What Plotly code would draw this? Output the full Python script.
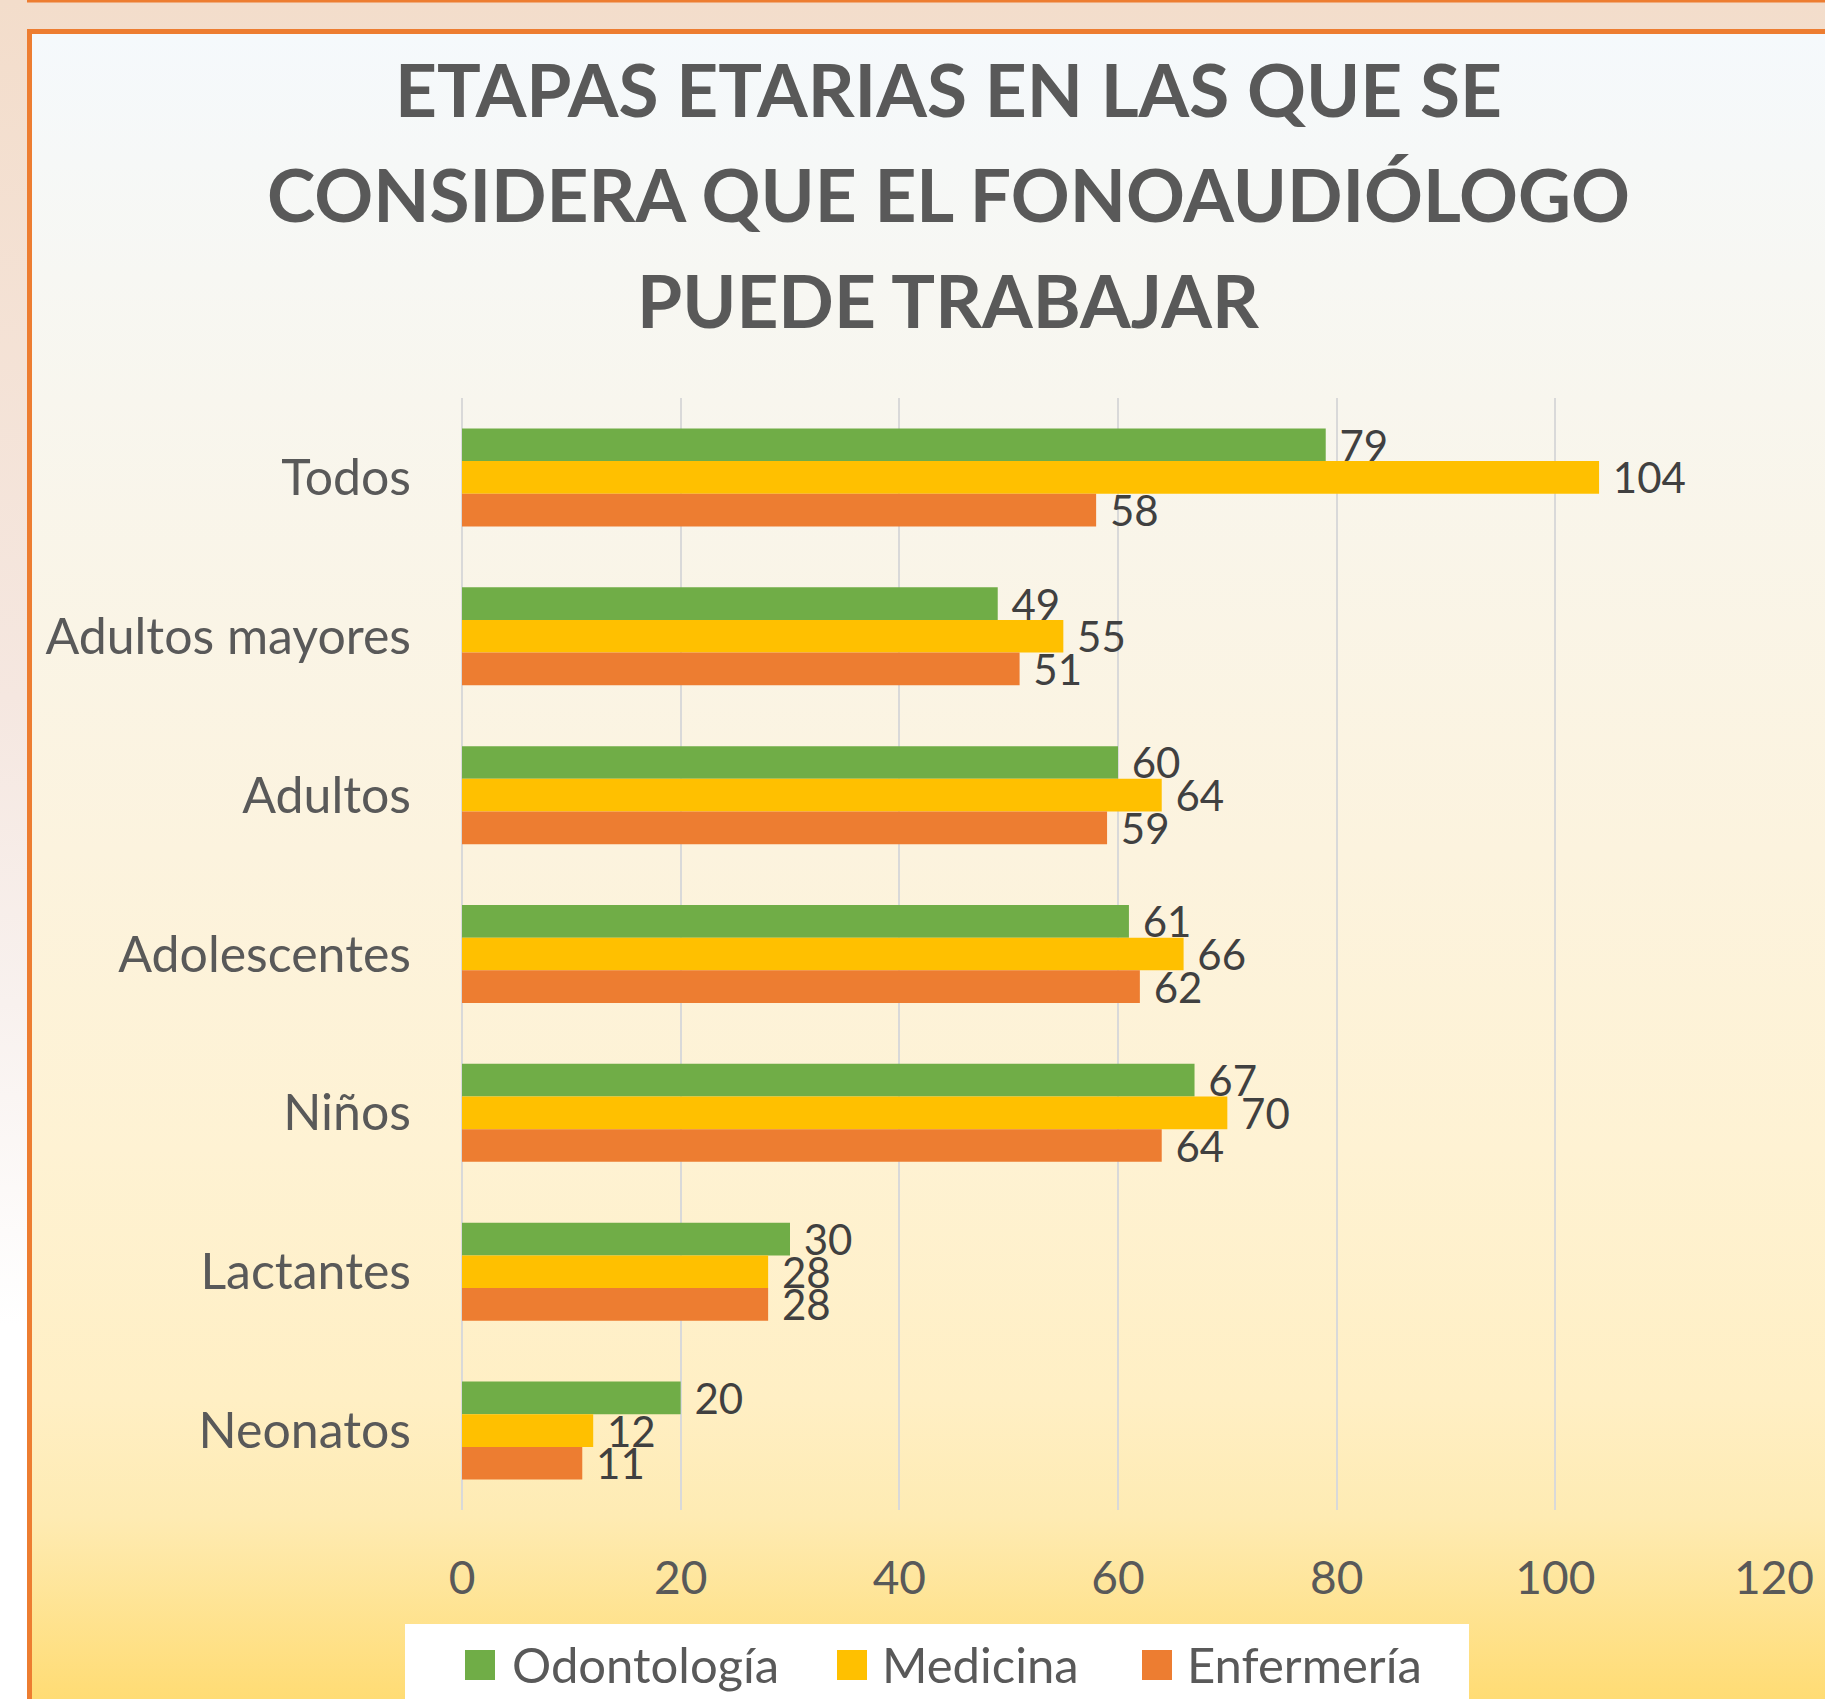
import base64
import plotly.graph_objects as go

# ---- data ----
categories = ["Todos", "Adultos mayores", "Adultos", "Adolescentes", "Niños", "Lactantes", "Neonatos"]
odontologia = [79, 49, 60, 61, 67, 30, 20]
medicina = [104, 55, 64, 66, 70, 28, 12]
enfermeria = [58, 51, 59, 62, 64, 28, 11]
series_names = ["Odontología", "Medicina", "Enfermería"]
series_colors = ["#70AD47", "#FFC000", "#ED7D31"]
x_ticks = [0, 20, 40, 60, 80, 100, 120]
title_lines = ["ETAPAS ETARIAS EN LAS QUE SE", "CONSIDERA QUE EL FONOAUDIÓLOGO", "PUEDE TRABAJAR"]

W, H = 1825, 1699
L, R, T, B = 462, 51, 398, 189
PW, PH = W - L - R, H - T - B
FONT = "Lato"


def px_x(px):
    return (px - L) / PW


def px_y(py):
    return (H - B - py) / PH


# ---- background (gradient panel drawn as an inline SVG image) ----
svg = f'''<svg xmlns="http://www.w3.org/2000/svg" width="{W}" height="{H}" viewBox="0 0 {W} {H}" preserveAspectRatio="none">
<defs>
<linearGradient id="o" x1="0" y1="0" x2="0" y2="1">
<stop offset="0" stop-color="#F3DDCB"/><stop offset="0.41" stop-color="#F5E7E0"/>
<stop offset="0.59" stop-color="#F8F1EE"/><stop offset="0.78" stop-color="#FFFFFF"/><stop offset="1" stop-color="#FFFFFF"/>
</linearGradient>
<linearGradient id="p" x1="0" y1="0" x2="0" y2="1">
<stop offset="0" stop-color="#F5F9FC"/><stop offset="0.22" stop-color="#F8F6EE"/>
<stop offset="0.49" stop-color="#FCF3DE"/><stop offset="0.67" stop-color="#FEF2D3"/>
<stop offset="0.82" stop-color="#FFEFC4"/><stop offset="0.89" stop-color="#FEEBB3"/>
<stop offset="1" stop-color="#FFDC74"/>
</linearGradient>
</defs>
<rect x="0" y="0" width="{W}" height="{H}" fill="url(#o)"/>
<rect x="27" y="0" width="{W-27}" height="2.5" fill="#ED7D31"/>
<rect x="27" y="29" width="{W-27}" height="{H-29}" fill="#ED7D31"/>
<rect x="32" y="34" width="{W-32}" height="{H-34}" fill="url(#p)"/>
<rect x="405" y="1624" width="1064" height="90" fill="#FFFFFF"/>
</svg>'''
src = "data:image/svg+xml;base64," + base64.b64encode(svg.encode("utf-8")).decode("ascii")

fig = go.Figure()
for name, vals, col in zip(series_names, [odontologia, medicina, enfermeria], series_colors):
    fig.add_trace(go.Bar(
        y=categories, x=vals, name=name, orientation="h",
        marker=dict(color=col, line=dict(width=0)),
        text=vals, texttemplate="\u00a0%{x}", textposition="outside",
        constraintext="none", cliponaxis=False,
        textfont=dict(family=FONT, size=42, color="#404040"),
        hoverinfo="skip", showlegend=False,
    ))

annotations = []
# title (three centred lines)
for line, cy in zip(title_lines, [89, 194, 300]):
    annotations.append(dict(
        text=line, xref="paper", yref="paper", x=px_x(948), y=px_y(cy),
        xanchor="center", yanchor="middle", showarrow=False,
        font=dict(family=FONT, size=73, color="#595959", weight=700),
    ))

# legend (square swatches + names)
shapes = []
legend_marker_left = [465, 837, 1142]
legend_text_left = [510, 880, 1185]
for name, col, mx, tx in zip(series_names, series_colors, legend_marker_left, legend_text_left):
    shapes.append(dict(
        type="rect", xref="paper", yref="paper",
        x0=px_x(mx), x1=px_x(mx + 30), y0=px_y(1680), y1=px_y(1650),
        fillcolor=col, line=dict(width=0), layer="above",
    ))
    annotations.append(dict(
        text=name, xref="paper", yref="paper", x=px_x(tx), y=px_y(1664),
        xanchor="left", yanchor="middle", showarrow=False,
        font=dict(family=FONT, size=49, color="#595959"),
    ))

fig.update_layout(
    width=W, height=H, autosize=False,
    margin=dict(l=L, r=R, t=T, b=B, pad=0),
    paper_bgcolor="#FFFFFF", plot_bgcolor="rgba(0,0,0,0)",
    barmode="group", bargap=0.383, bargroupgap=0,
    font=dict(family=FONT, color="#595959"),
    showlegend=False,
    xaxis=dict(
        range=[0, 120], tickvals=x_ticks, showgrid=True, gridcolor="#D9D9D9", gridwidth=2,
        zeroline=True, zerolinecolor="#D9D9D9", zerolinewidth=2, showline=False, ticks="",
        tickfont=dict(family=FONT, size=46, color="#595959"), ticklabelstandoff=37,
        fixedrange=True,
    ),
    yaxis=dict(
        type="category", categoryorder="array", categoryarray=categories, autorange="reversed",
        showgrid=False, zeroline=False, showline=False, ticks="",
        tickfont=dict(family=FONT, size=50, color="#595959"), ticklabelstandoff=50,
        fixedrange=True,
    ),
    annotations=annotations,
    shapes=shapes,
    images=[dict(
        source=src, xref="paper", yref="paper",
        x=-L / PW, y=(PH + T) / PH, sizex=W / PW, sizey=H / PH,
        xanchor="left", yanchor="top", sizing="stretch", layer="below",
    )],
)

fig.write_html(
    "out.html",
    config={"displayModeBar": False},
    post_script="document.body.style.margin='0px';document.body.style.overflow='hidden';",
)
